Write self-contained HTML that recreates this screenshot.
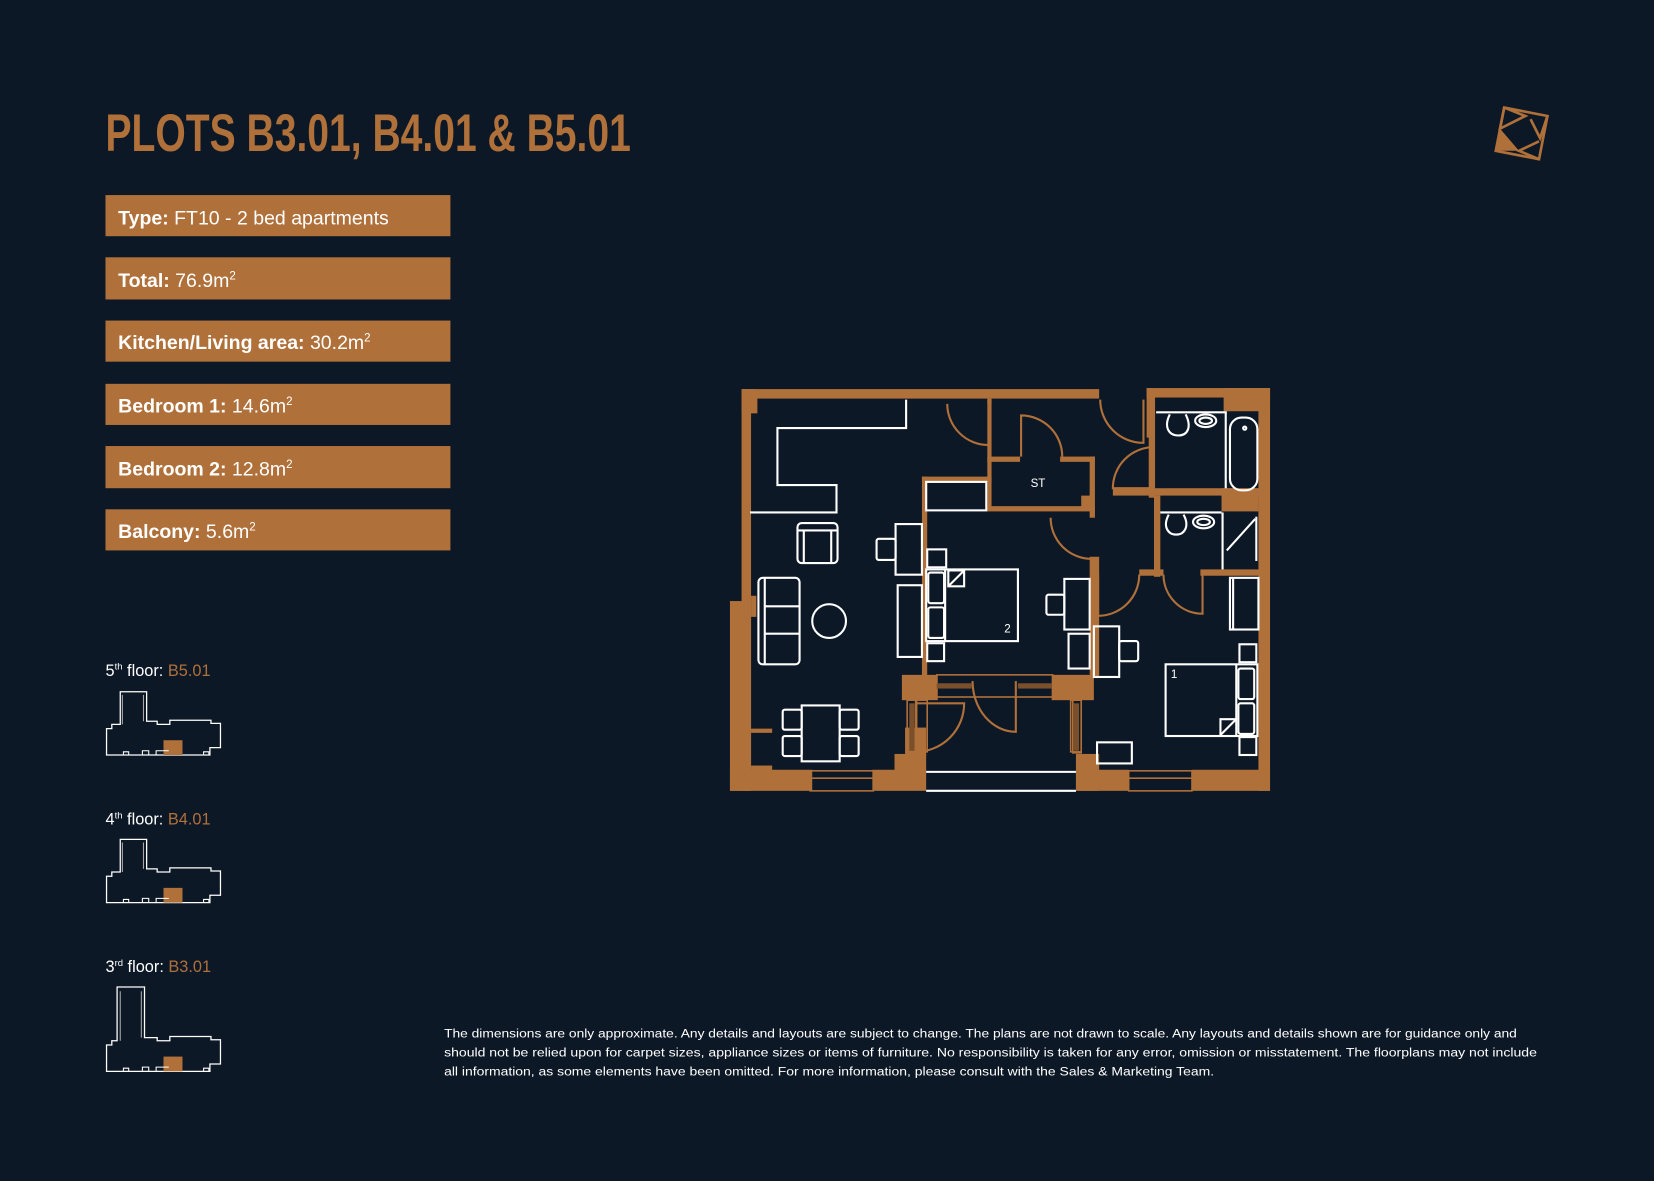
<!DOCTYPE html>
<html><head><meta charset="utf-8"><style>
html,body{margin:0;padding:0;background:#0d1826;}
svg{display:block}
</style></head><body>
<svg width="1654" height="1181" viewBox="0 0 1568 1120" preserveAspectRatio="none" xmlns="http://www.w3.org/2000/svg" font-family="Liberation Sans, sans-serif">
<rect width="1568" height="1120" fill="#0d1826"/>
<!-- Title -->
<text x="100" y="143" font-size="50" font-weight="bold" fill="#b0703a" textLength="498" lengthAdjust="spacingAndGlyphs">PLOTS B3.01, B4.01 &amp; B5.01</text>
<!-- logo -->
<g fill="none" stroke="#b0703a" stroke-width="2.5">
<polygon points="1426,102 1467,110 1459,151 1418,143"/>
<polyline points="1426,102 1446,110 1422,122 1426,102"/>
<polyline points="1467,110 1460,131 1451,113"/>
<polyline points="1459,151 1440,143 1459,134"/>
</g>
<polygon points="1422,122 1418,143 1440,143" fill="#b0703a"/>
<!-- info boxes -->
<g fill="#b0703a">
<rect x="100" y="185" width="327" height="39"/>
<rect x="100" y="244" width="327" height="40"/>
<rect x="100" y="304" width="327" height="39"/>
<rect x="100" y="364" width="327" height="39"/>
<rect x="100" y="423" width="327" height="40"/>
<rect x="100" y="483" width="327" height="39"/>
</g>
<g fill="#fff" font-size="18.5">
<text x="112" y="213"><tspan font-weight="bold">Type:</tspan> FT10 - 2 bed apartments</text>
<text x="112" y="272"><tspan font-weight="bold">Total:</tspan> 76.9m<tspan font-size="11" dy="-7">2</tspan></text>
<text x="112" y="331"><tspan font-weight="bold">Kitchen/Living area:</tspan> 30.2m<tspan font-size="11" dy="-7">2</tspan></text>
<text x="112" y="391"><tspan font-weight="bold">Bedroom 1:</tspan> 14.6m<tspan font-size="11" dy="-7">2</tspan></text>
<text x="112" y="451"><tspan font-weight="bold">Bedroom 2:</tspan> 12.8m<tspan font-size="11" dy="-7">2</tspan></text>
<text x="112" y="510"><tspan font-weight="bold">Balcony:</tspan> 5.6m<tspan font-size="11" dy="-7">2</tspan></text>
</g>
<!-- floor labels -->
<g font-size="15.5" fill="#fff">
<text x="100" y="641">5<tspan font-size="9" dy="-6">th</tspan><tspan dy="6"> floor: </tspan><tspan fill="#b0703a">B5.01</tspan></text>
<text x="100" y="782">4<tspan font-size="9" dy="-6">th</tspan><tspan dy="6"> floor: </tspan><tspan fill="#b0703a">B4.01</tspan></text>
<text x="100" y="922">3<tspan font-size="9" dy="-6">rd</tspan><tspan dy="6"> floor: </tspan><tspan fill="#b0703a">B3.01</tspan></text>
</g>
<!-- mini plans -->
<defs>
<g id="mini">
<path d="M101,716 V691 H106 V687 H114 V656 H139 V684 H149 V687 H161 V683 H200 V686 H209 V709 H199 V716 Z" fill="none" stroke="#fff" stroke-width="1.2"/>
<path d="M116,687 V659 M136,659 V684" fill="none" stroke="#aaa" stroke-width="1"/>
<rect x="155" y="702" width="18" height="14" fill="#b0703a"/>
<path d="M117,716 v-3 h5 v3 M135,716 v-4 h6 v4 M148,716 v-4 h12 M193,716 v-3 h5 v3" fill="none" stroke="#fff" stroke-width="1"/>
</g>
</defs>
<use href="#mini"/>
<use href="#mini" y="140"/>
<g transform="translate(0,280)">
<path d="M101,736 V711 H106 V707 H111 V656 H137 V704 H149 V707 H161 V703 H200 V706 H209 V729 H199 V736 Z" fill="none" stroke="#fff" stroke-width="1.2"/>
<path d="M114,707 V660 M134,660 V704" fill="none" stroke="#aaa" stroke-width="1"/>
<rect x="155" y="722" width="18" height="14" fill="#b0703a"/>
<path d="M117,736 v-3 h5 v3 M135,736 v-4 h6 v4 M148,736 v-4 h12 M193,736 v-3 h5 v3" fill="none" stroke="#fff" stroke-width="1"/>
</g>
<!-- disclaimer -->
<g fill="#fff" font-size="11.3">
<text x="421" y="984" textLength="1017" lengthAdjust="spacingAndGlyphs">The dimensions are only approximate. Any details and layouts are subject to change. The plans are not drawn to scale. Any layouts and details shown are for guidance only and</text>
<text x="421" y="1002" textLength="1036" lengthAdjust="spacingAndGlyphs">should not be relied upon for carpet sizes, appliance sizes or items of furniture. No responsibility is taken for any error, omission or misstatement. The floorplans may not include</text>
<text x="421" y="1020" textLength="730" lengthAdjust="spacingAndGlyphs">all information, as some elements have been omitted. For more information, please consult with the Sales &amp; Marketing Team.</text>
</g>
<!-- FLOOR PLAN -->
<g fill="#b0703a">
<!-- top wall -->
<rect x="703" y="369" width="339" height="9"/>
<rect x="703" y="369" width="15" height="23"/>
<rect x="936" y="378" width="4" height="5"/>
<!-- left wall -->
<rect x="703" y="369" width="9" height="381"/>
<rect x="692" y="570" width="20" height="180"/>
<rect x="712" y="565" width="5" height="20"/>
<!-- bottom left -->
<rect x="692" y="730" width="78" height="20"/>
<rect x="827" y="730" width="51" height="20"/>
<rect x="712" y="691" width="20" height="4"/>
<rect x="712" y="726" width="20" height="5"/>
<rect x="848" y="715" width="30" height="17"/>
<rect x="858" y="690" width="20" height="27"/>
<!-- bedroom2/balcony -->
<rect x="855" y="640" width="34" height="24"/>
<rect x="997" y="640" width="40" height="24"/>
<rect x="874" y="452" width="5" height="190"/>
<rect x="874" y="452" width="66" height="5"/>
<rect x="936" y="379" width="4" height="105"/>
<rect x="936" y="433" width="31" height="5"/>
<rect x="1005" y="433" width="33" height="5"/>
<rect x="936" y="480" width="102" height="5"/>
<rect x="1033" y="433" width="5" height="58"/>
<rect x="1025" y="470" width="10" height="12"/>
<rect x="1033" y="528" width="9" height="113"/>
<!-- right bottom -->
<rect x="1020" y="715" width="22" height="35"/>
<rect x="1020" y="730" width="50" height="20"/>
<rect x="1130" y="730" width="74" height="20"/>
<!-- right wall -->
<rect x="1193" y="368" width="11" height="382"/>
<rect x="1087" y="368" width="117" height="9"/>
<rect x="1160" y="368" width="44" height="22"/>
<rect x="1087" y="368" width="7" height="47"/>
<rect x="1089" y="375" width="6" height="97"/>
<rect x="1055" y="463" width="145" height="7"/>
<rect x="1158" y="463" width="35" height="22"/>
<rect x="1094" y="470" width="6" height="77"/>
<rect x="1080" y="540" width="23" height="6"/>
<rect x="1138" y="540" width="60" height="6"/>
</g>
<!-- windows -->
<g fill="none" stroke="#b0703a" stroke-width="1.5">
<rect x="768" y="731" width="60" height="19"/>
<line x1="768" y1="738" x2="828" y2="738"/>
<rect x="1070" y="731" width="60" height="19"/>
<line x1="1070" y1="738" x2="1130" y2="738"/>
<rect x="888" y="640" width="110" height="21"/>
<rect x="860" y="664" width="8" height="50"/>
<rect x="1017" y="664" width="8" height="50"/>
<rect x="869" y="664" width="10" height="49"/>
<rect x="1015" y="664" width="10" height="49"/>
</g>
<g fill="#7a4f2c"><rect x="888" y="648" width="33" height="5"/><rect x="965" y="648" width="32" height="5"/><rect x="862" y="667" width="5" height="45"/><rect x="1018" y="667" width="5" height="45"/></g>
<!-- balcony rail -->
<g stroke="#fff" stroke-width="2"><line x1="878" y1="732" x2="1020" y2="732"/><line x1="878" y1="750" x2="1020" y2="750"/></g>
<!-- doors -->
<g fill="none" stroke="#b0703a" stroke-width="2">
<path d="M1043,379 A41,41 0 0 0 1084,420 V379"/>
<path d="M898,383 A39,39 0 0 0 937,422"/>
<path d="M968,433 V394 A39,39 0 0 1 1007,433"/>
<path d="M1094,463 H1055 A39,39 0 0 1 1094,424"/>
<path d="M996,491 A39,39 0 0 0 1035,530"/>
<path d="M1041,545 V584 A39,39 0 0 0 1080,545"/>
<path d="M1140,545 V582 A37,37 0 0 1 1103,545"/>
<path d="M963,646 V694 A41,48 0 0 1 922,646"/>
<path d="M868,667 H914 A46,46 0 0 1 868,713"/>
</g>
<!-- furniture -->
<g fill="none" stroke="#fff" stroke-width="2">
<polyline points="859,379 859,406 737,406 737,460 793,460 793,486 711,486"/>
<rect x="756" y="496" width="38" height="38" rx="4"/>
<line x1="756" y1="503" x2="794" y2="503"/><line x1="762" y1="503" x2="762" y2="534"/><line x1="788" y1="503" x2="788" y2="534"/>
<rect x="719" y="548" width="39" height="82" rx="4"/>
<line x1="725" y1="548" x2="725" y2="630"/><line x1="725" y1="575" x2="758" y2="575"/><line x1="725" y1="601" x2="758" y2="601"/>
<circle cx="786" cy="589" r="16"/>
<rect x="760" y="669" width="36" height="53"/>
<rect x="742" y="673" width="18" height="19" rx="2"/><rect x="742" y="698" width="18" height="19" rx="2"/>
<rect x="796" y="673" width="18" height="19" rx="2"/><rect x="796" y="698" width="18" height="19" rx="2"/>
<rect x="849" y="497" width="25" height="48"/>
<rect x="831" y="511" width="18" height="20" rx="2"/>
<rect x="851" y="555" width="23" height="68"/>
<rect x="878" y="457" width="57" height="27"/>
<rect x="878" y="540" width="87" height="68"/>
<rect x="880" y="543" width="15" height="29" rx="2"/><rect x="880" y="576" width="15" height="29" rx="2"/>
<line x1="896" y1="540" x2="896" y2="608"/>
<path d="M899,541 H914 V556 H899 Z M899,556 L914,541"/>
<rect x="879" y="521" width="18" height="17"/>
<rect x="879" y="610" width="16" height="17"/>
<rect x="1009" y="549" width="24" height="48"/>
<rect x="992" y="564" width="17" height="19" rx="2"/>
<rect x="1037" y="594" width="24" height="48"/>
<rect x="1013" y="601" width="20" height="33"/>
<rect x="1061" y="608" width="18" height="19" rx="2"/>
<rect x="1105" y="630" width="87" height="68"/>
<rect x="1174" y="634" width="15" height="29" rx="2"/><rect x="1174" y="667" width="15" height="29" rx="2"/>
<line x1="1172" y1="630" x2="1172" y2="698"/>
<path d="M1157,697 V682 H1172 M1157,697 L1172,682"/>
<rect x="1175" y="611" width="16" height="17"/>
<rect x="1175" y="699" width="16" height="17"/>
<rect x="1166" y="548" width="27" height="49"/>
<line x1="1169" y1="548" x2="1169" y2="597"/>
<rect x="1040" y="704" width="33" height="20"/>
<line x1="1096" y1="391" x2="1163" y2="391"/>
<line x1="1162" y1="391" x2="1162" y2="463"/>
<rect x="1166" y="396" width="26" height="69" rx="11"/>
<circle cx="1180" cy="406" r="1.5"/>
<path d="M1109,393 C1103,405 1108,413 1117,413 C1126,413 1130,405 1124,393"/>
<ellipse cx="1143" cy="399" rx="10" ry="6"/><ellipse cx="1143" cy="399" rx="6" ry="3"/>
<line x1="1100" y1="486" x2="1158" y2="486"/>
<path d="M1108,488 C1102,499 1107,507 1115,507 C1123,507 1128,499 1122,488"/>
<ellipse cx="1141" cy="495" rx="10" ry="6"/><ellipse cx="1141" cy="495" rx="6" ry="3"/>
<line x1="1159" y1="486" x2="1159" y2="540"/>
<line x1="1191" y1="490" x2="1191" y2="532"/>
<line x1="1163" y1="522" x2="1190" y2="492"/>
</g>
<text x="977" y="462" font-size="11" fill="#fff">ST</text>
<text x="952" y="600" font-size="11" fill="#fff">2</text>
<text x="1110" y="643" font-size="11" fill="#fff">1</text>
</svg>
</body></html>
